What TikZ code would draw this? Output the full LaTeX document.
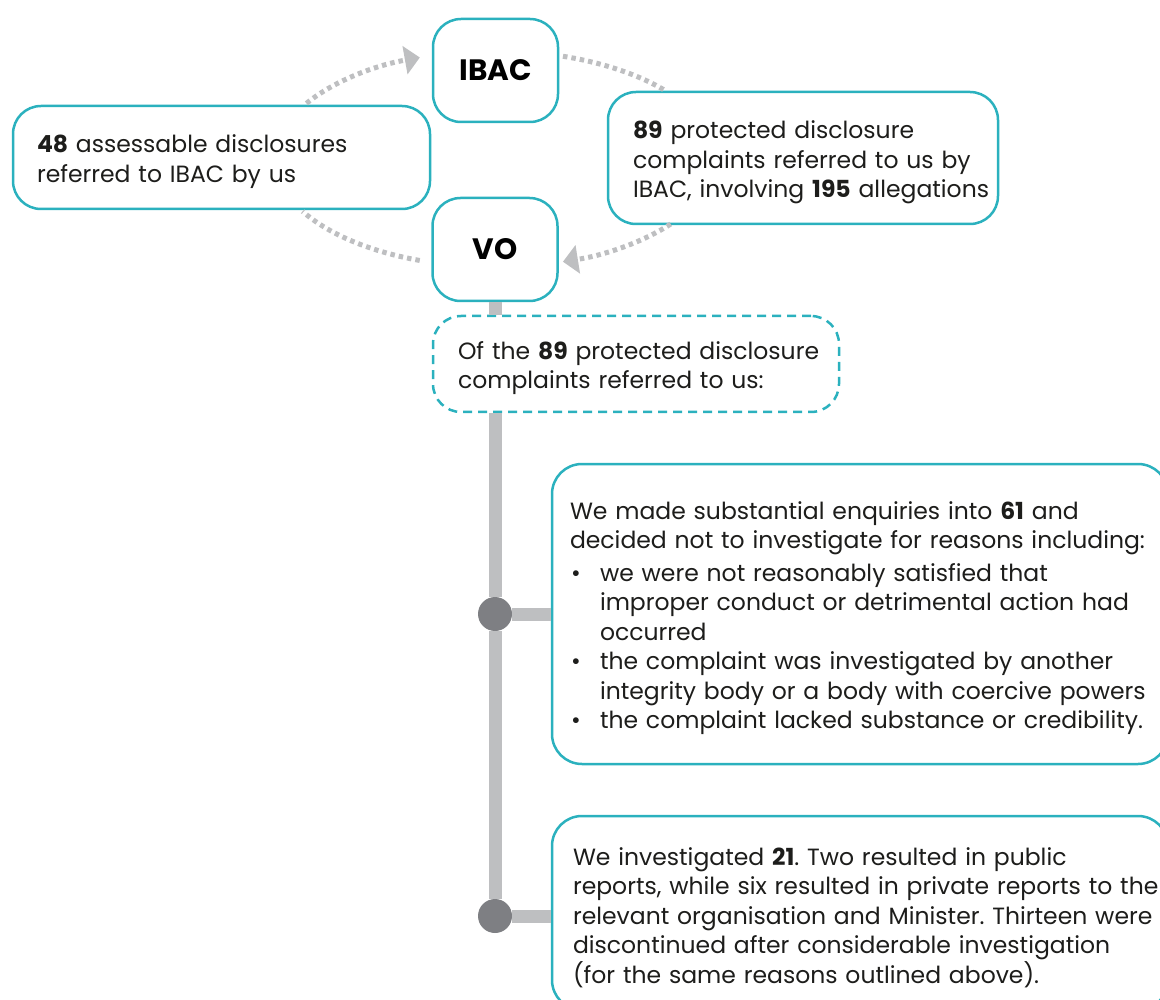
\documentclass[tikz,border=0pt]{standalone}
\usepackage{fontspec}
\setmainfont{Poppins}
\usepackage{tikz}
\usetikzlibrary{arrows.meta,positioning}
\definecolor{vteal}{HTML}{2BB1BE}
\definecolor{vgrey}{HTML}{BEBFC1}
\definecolor{vdot}{HTML}{7E7F83}
\definecolor{vtext}{HTML}{1D1D1B}
\newcommand{\bul}{\makebox[30pt][l]{\hspace{1pt}\textbullet}}
\newcommand{\ind}{\hspace*{30pt}}
\frenchspacing
\tikzset{
  frame/.style={draw=vteal, line width=2.5pt, rounded corners=28pt, fill=white},
  box/.style={frame, align=left, inner ysep=0pt,
              font=\fontsize{23.5}{29.5}\selectfont, text=vtext,
              execute at begin node={\rule{0pt}{26.5pt}}},
  agency/.style={frame, minimum width=125pt, minimum height=103pt,
                 font=\fontsize{29.5}{32}\selectfont\bfseries, text=black},
  intro/.style={box, dash pattern=on 9pt off 6pt},
  ring/.style={draw=vgrey, line width=5pt, dash pattern=on 4.5pt off 4pt},
  ringto/.style={ring, -{Triangle[length=15pt,width=29pt,line width=0pt]}},
  trunk/.style={draw=vgrey, line width=13pt},
  knot/.style={circle, fill=vdot, minimum size=34pt, inner sep=0pt},
}

\begin{document}
\begin{tikzpicture}[x=1pt, y=1pt]
  \useasboundingbox (0,0) rectangle (1160,-1000);
  \clip (0,0) rectangle (1160,-1000);

  % the two agencies and what passes between them
  \node[agency] (ibac) at (495.5,-70.5) {IBAC};
  \node[agency] (vo)   at (495,-249.5)  {VO};
  \node[box, minimum height=103pt, text width=369pt, inner xsep=24pt] (tovo)
    at (221.5,-157.5) {\textbf{48} assessable disclosures\\ referred to IBAC by us};
  \node[box, minimum height=132pt, text width=340pt, inner xsep=25pt] (fromibac)
    at (803,-158) {\textbf{89} protected disclosure\\ complaints referred to us by\\
                   \mbox{IBAC, involving \textbf{195} allegations}};

  % loop around the exchange
  \coordinate (hub) at (495,-159);
  \draw[ringto] ([shift={(149:220 and 108)}]hub)
    arc[start angle=149, end angle=110, x radius=220, y radius=108];
  \draw[ring]   ([shift={(72:220 and 108)}]hub)
    arc[start angle=72, end angle=39, x radius=220, y radius=108];
  \draw[ringto] ([shift={(-37:220 and 108)}]hub)
    arc[start angle=-37, end angle=-72, x radius=220, y radius=108];
  \draw[ring]   ([shift={(-110:220 and 108)}]hub)
    arc[start angle=-110, end angle=-151, x radius=220, y radius=108];

  % outcomes
  \node[intro, minimum height=96pt, text width=356pt, inner xsep=25pt] (split)
    at (636,-364) {\mbox{Of the \textbf{89} protected disclosure}\\ complaints referred to us:};
  \node[box, rounded corners=30pt, minimum height=300pt, text width=580pt,
        inner xsep=18pt] (enq) at (860,-614) {%
    We made substantial enquiries into \textbf{61} and\\
    decided not to investigate for reasons including:\\[3pt]
    \bul we were not reasonably satisfied that\\
    \ind improper conduct or detrimental action had\\
    \ind occurred\\
    \bul the complaint was investigated by another\\
    \mbox{\ind integrity body or a body with coercive powers}\\
    \bul the complaint lacked substance or credibility.};
  \node[box, rounded corners=30pt, minimum height=194pt, text width=574pt,
        inner xsep=21pt] (inv) at (860,-913) {%
    We investigated \textbf{21}. Two resulted in public\\
    \mbox{reports, while six resulted in private reports to the}\\
    \mbox{relevant organisation and Minister. Thirteen were}\\
    discontinued after considerable investigation\\
    (for the same reasons outlined above).};

  \node[knot] (k1) at (vo.south |- enq.west) {};
  \node[knot] (k2) at ([yshift=-3pt]vo.south |- inv.west) {};
  \draw[trunk] (vo.south) -- (vo.south |- split.north);
  \draw[trunk] (vo.south |- split.south) -- (k1);
  \draw[trunk] (k1) -- (k2);
  \draw[trunk] (k1) -- (enq.west);
  \draw[trunk] (k2) -- (k2 -| inv.west);
\end{tikzpicture}
\end{document}
